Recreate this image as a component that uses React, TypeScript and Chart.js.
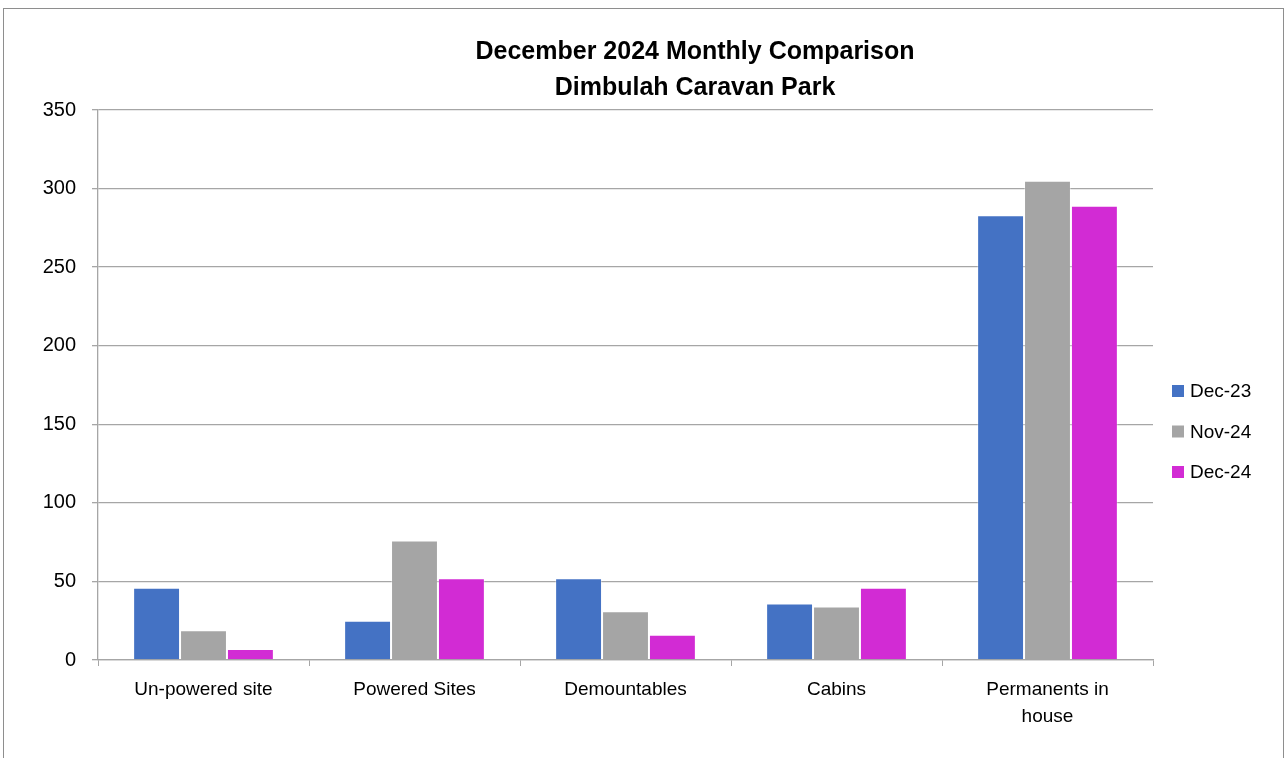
import React, { useEffect, useRef } from "react";
import { Chart, registerables } from "chart.js";

Chart.register(...registerables);

const categories: (string | string[])[] = [
  "Un-powered site",
  "Powered Sites",
  "Demountables",
  "Cabins",
  ["Permanents in", "house"],
];
const seriesNames = ["Dec-23", "Nov-24", "Dec-24"];
const dec23 = [46, 25, 52, 36, 283];
const nov24 = [19, 76, 31, 34, 305];
const dec24 = [7, 52, 16, 46, 289];
const seriesColors = ["#4472C4", "#A5A5A5", "#D22BD4"];
const titleLines = ["December 2024 Monthly Comparison", "Dimbulah Caravan Park"];
const yMax = 350;
const yStep = 50;

const titlePlugin = {
  id: "centerTitle",
  afterDraw(chart: any) {
    const { ctx } = chart;
    ctx.save();
    ctx.font = "bold 25px 'Liberation Sans', Arial, sans-serif";
    ctx.fillStyle = "#000";
    ctx.textAlign = "center";
    ctx.textBaseline = "alphabetic";
    titleLines.forEach((t, i) => {
      ctx.fillText(t, 695, 59 + i * 36);
    });
    ctx.restore();
  },
};

const legendPlugin = {
  id: "sideLegend",
  afterDraw(chart: any) {
    const { ctx, chartArea } = chart;
    ctx.save();
    ctx.font = "19px 'Liberation Sans', Arial, sans-serif";
    ctx.textBaseline = "middle";
    ctx.textAlign = "left";
    chart.data.datasets.forEach((ds: any, i: number) => {
      const y = chartArea.top + 281 + i * 40.5;
      const x = chartArea.right + 19;
      ctx.fillStyle = ds.backgroundColor;
      ctx.fillRect(x, y - 6, 12, 12);
      ctx.fillStyle = "#000";
      ctx.fillText(ds.label, x + 18, y + 1);
    });
    ctx.restore();
  },
};

export default function App() {
  const ref = useRef<HTMLCanvasElement | null>(null);
  useEffect(() => {
    if (!ref.current) return;
    const values = [dec23, nov24, dec24];
    const chart = new Chart(ref.current, {
      type: "bar",
      data: {
        labels: categories as any,
        datasets: seriesNames.map((name, i) => ({
          label: name,
          data: values[i],
          backgroundColor: seriesColors[i],
          borderColor: "rgba(255,255,255,0.35)",
          borderWidth: 1,
          categoryPercentage: 0.667,
          barPercentage: 1.0,
        })),
      },
      options: {
        responsive: false,
        animation: false,
        devicePixelRatio: 1,
        layout: { padding: { left: 0, right: 134, top: 110, bottom: 0 } },
        plugins: {
          legend: { display: false },
          tooltip: { enabled: false },
          title: { display: false },
        },
        scales: {
          x: {
            afterFit(scale: any) {
              scale.height = 98;
            },
            grid: {
              offset: true,
              drawOnChartArea: false,
              drawTicks: true,
              tickLength: 6,
              color: "#A6A6A6",
            },
            border: { display: true, color: "#A6A6A6", width: 1.3 },
            ticks: {
              color: "#000",
              padding: 10,
              maxRotation: 0,
              autoSkip: false,
              font: { family: "'Liberation Sans', Arial, sans-serif", size: 19, lineHeight: 1.42 },
            },
          },
          y: {
            min: 0,
            max: yMax,
            afterFit(scale: any) {
              scale.width = 98;
            },
            grid: {
              color: "#A6A6A6",
              lineWidth: 1.3,
              drawTicks: true,
              tickLength: 6,
            },
            border: { display: true, color: "#A6A6A6", width: 1.3 },
            ticks: {
              stepSize: yStep,
              color: "#000",
              padding: 16,
              font: { family: "'Liberation Sans', Arial, sans-serif", size: 20 },
            },
          },
        },
      },
      plugins: [titlePlugin, legendPlugin],
    });
    return () => chart.destroy();
  }, []);

  return (
    <div style={{ position: "absolute", left: 0, top: 0, width: 1287, height: 758, background: "#fff", overflow: "hidden" }}>
      <canvas ref={ref} width={1287} height={758} style={{ position: "absolute", left: 0, top: 0 }} />
      <div
        style={{
          position: "absolute",
          left: 3,
          top: 8,
          width: 1279,
          height: 760,
          borderTop: "1px solid #8E8E8E",
          borderLeft: "1px solid #8E8E8E",
          borderRight: "1px solid #8E8E8E",
          pointerEvents: "none",
        }}
      />
    </div>
  );
}
